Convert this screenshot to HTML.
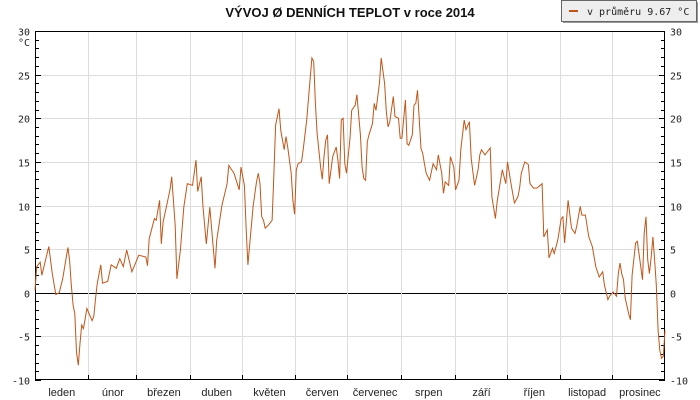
<!DOCTYPE html>
<html><head><meta charset="utf-8"><style>
html,body{margin:0;padding:0;background:#fff;}
svg{display:block;font-family:"Liberation Sans",sans-serif;}
.tk{font-family:"DejaVu Sans Mono","Liberation Mono",monospace;font-size:10px;fill:#222;}
</style></head><body>
<svg id="chart" width="700" height="400" viewBox="0 0 700 400">
<text x="350" y="17" text-anchor="middle" font-size="13" font-weight="bold" fill="#111">VÝVOJ Ø DENNÍCH TEPLOT v roce 2014</text>
<g>
<rect x="561.5" y="0.5" width="135" height="21" fill="#eee" stroke="#666"/>
<line x1="563" y1="22.5" x2="697" y2="22.5" stroke="#999" stroke-width="1"/>
<line x1="697.5" y1="2" x2="697.5" y2="23" stroke="#999"/>
<line x1="569" y1="11" x2="578" y2="11" stroke="#c0561a" stroke-width="2"/>
<text x="587" y="15" class="tk">v průměru 9.67 °C</text>
</g>
<g id="grid"></g>
<g id="axes"></g>
<path id="line" fill="none" stroke="#c0561a" stroke-width="1"/>
</svg>
<script>
const months = ["leden","únor","březen","duben","květen","červen","červenec","srpen","září","říjen","listopad","prosinec"];
const monthDays = [31,28,31,30,31,30,31,31,30,31,30,31];
const yTicks = [30,25,20,15,10,5,0,-5,-10];
const days = [0,1,3,4,6,8,10,12,14,16,19,20,21,22,23,24,25,26,27,28,30,33,34,35,36,38,39,42,44,47,49,51,53,56,60,64,65,66,69,70,72,73,74,78,79,81,82,84,86,88,91,93,94,96,97,99,101,104,105,108,111,112,115,118,119,121,122,123,126,128,129,130,131,132,133,135,137,138,139,141,142,144,145,146,148,149,150,151,152,154,155,157,159,160,161,162,163,165,166,167,168,169,170,172,174,175,176,177,178,179,180,182,183,185,186,188,189,190,191,192,193,195,196,197,199,200,202,203,204,205,207,208,210,211,212,214,215,216,218,219,220,221,223,224,225,226,228,230,232,233,235,236,237,239,240,242,243,245,246,248,249,251,252,254,256,257,258,260,263,264,266,267,269,270,272,273,275,277,279,280,281,283,285,286,288,290,293,294,296,297,299,300,302,304,305,306,308,310,312,313,315,316,318,320,322,324,326,328,329,331,332,334,336,337,338,339,340,341,343,344,345,347,348,349,351,352,353,354,355,356,357,358,359,360,361,362,363,364];
const temps = [0.3,3.0,3.5,2.0,3.7,5.3,2.2,-0.2,0,1.6,5.2,3.7,0.9,-1.4,-2.4,-6.8,-8.3,-5.8,-3.7,-4.1,-1.8,-3.2,-2.7,-0.6,1.1,3.2,1.1,1.3,3.2,2.8,3.9,3.0,4.9,2.4,4.3,4.1,3.1,6.2,8.5,8.3,10.6,5.6,8.1,11.8,13.3,7.7,1.6,4.9,9.8,12.5,12.3,15.2,11.6,13.3,10.0,5.6,9.8,2.8,6.0,10,12.5,14.6,13.7,11.8,14.4,12.3,7.2,3.2,9.9,12.7,13.7,12.5,8.7,8.3,7.4,7.8,8.3,13.3,19.2,21.1,18.6,16.4,17.9,16.7,13.7,10.6,9.0,14.1,14.8,15.0,16.5,19.8,24.6,26.9,26.5,21.7,18.3,14.4,13.0,15.6,17.5,18.1,12.5,15.6,16.7,15.2,13.1,19.8,20,14.8,13.7,17.7,20.9,21.5,22.7,18.1,14.4,13.1,12.9,17.3,18.1,19.4,21.7,20.9,24.0,26.9,24.0,20.8,19.0,19.6,22.5,20.2,20,17.7,17.7,22.1,17.1,16.9,18.1,21.5,21.7,23.2,16.5,16.0,14.8,13.7,12.9,14.8,14.1,15.8,13.7,11.4,12.7,12.3,15.6,14.4,11.8,12.9,16.4,19.8,18.7,19.6,15.4,12.3,14.1,15.8,16.4,15.8,16.6,11.0,8.5,10.4,12.9,14.1,12.5,15.0,12.5,10.3,11.0,12.0,13.7,15.0,14.7,12.5,12.0,12.0,12.5,6.4,7.2,4.0,5.1,4.5,6.0,8.5,8.7,5.7,10.6,7.4,6.8,7.6,9.9,8.9,8.9,6.4,5.3,3.0,1.8,2.4,0.9,-0.8,-0.4,0.1,-0.4,2.2,3.4,2.2,1.5,-0.6,-2.4,-3.1,2.0,5.7,5.9,4.5,1.5,6.8,8.7,3.8,2.2,4.1,6.4,3.8,0.9,-4.3,-6.6,-7.5,-7.3,-4.3,-4.5];

const X0=35, X1=665, Y0=31, Y1=380, TMIN=-10, TMAX=30;
const xs = d => X0 + d*(X1-X0)/364;
const ys = t => Y1 - (t-TMIN)*(Y1-Y0)/(TMAX-TMIN);
const NS="http://www.w3.org/2000/svg";
const grid=document.getElementById('grid'), axes=document.getElementById('axes');
function mk(tag, attrs, parent){const e=document.createElementNS(NS,tag);for(const k in attrs)e.setAttribute(k,attrs[k]);parent.appendChild(e);return e;}

// horizontal grid + tick labels
yTicks.forEach(t=>{
  const y=Math.round(ys(t))+0.5;
  if(t!==TMIN&&t!==TMAX){const g=mk('line',{x1:X0,x2:X1,y1:y,y2:y,stroke:t===0?'#000':'#ddd'},grid);
  
  }
  const l=mk('text',{x:30,y:y+4,'text-anchor':'end',class:'tk'},axes); l.textContent=t;
  
  
  const r=mk('text',{x:670,y:y+4,class:'tk'},axes); r.textContent=t;
  
  
});
const u=mk('text',{x:30,y:Y0+15,'text-anchor':'end',class:'tk'},axes); u.textContent='°C';


// minor ticks
for(let t=TMIN;t<=TMAX;t++){
  const y=Math.round(ys(t))+0.5, len=(t%5===0)?6:4;
  mk('line',{x1:X0,x2:X0+len,y1:y,y2:y,stroke:'#000'},axes);
  mk('line',{x1:X1-len,x2:X1,y1:y,y2:y,stroke:'#000'},axes);
}
// months
let acc=0;
months.forEach((m,i)=>{
  const start=acc; acc+=monthDays[i];
  if(i<11){const x=Math.round(xs(acc-0.5))+0.5;
    const g=mk('line',{x1:x,x2:x,y1:Y0,y2:Y1,stroke:'#ddd'},grid);
    
    
    mk('line',{x1:x,x2:x,y1:Y1-5,y2:Y1,stroke:'#000'},axes);}
  const t=mk('text',{x:xs((start+acc)/2),y:396,'text-anchor':'middle','font-size':'11',fill:'#222'},axes);
  t.textContent=m;
  
  
});
// frame
const f=mk('rect',{x:X0+0.5,y:Y0+0.5,width:X1-X0-1,height:Y1-Y0-1,fill:'none',stroke:'#000'},axes);


// line
document.getElementById('line').setAttribute('d', days.map((d,i)=>(i?'L':'M')+xs(d).toFixed(1)+' '+ys(temps[i]).toFixed(1)).join(' '));
</script>
</body></html>
